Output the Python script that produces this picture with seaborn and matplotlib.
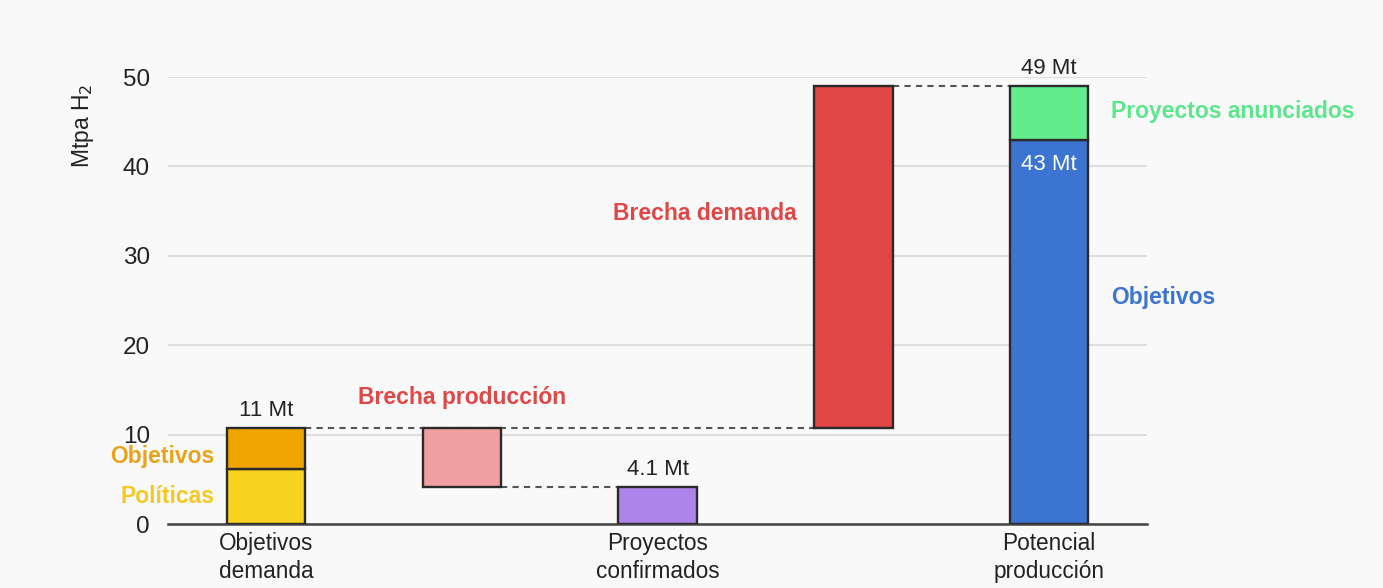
import matplotlib
matplotlib.use("Agg")
import matplotlib.pyplot as plt
import seaborn as sns

sns.set_theme(style="white")
plt.rcParams['font.family'] = ['Liberation Sans', 'DejaVu Sans']

# ---- data ----
slots = ["s0", "s1", "s2", "s3", "s4"]
segment_names = ["Políticas", "Objetivos", "Brecha producción", "Proyectos confirmados",
                 "Brecha demanda", "Objetivos", "Proyectos anunciados"]
segment_slot = ["s0", "s0", "s1", "s2", "s3", "s4", "s4"]
segment_bottom = [0, 6.1, 4.1, 0, 10.7, 0, 43]
segment_top = [6.1, 10.7, 10.7, 4.1, 49, 43, 49]
segment_colors = ["#f9d11f", "#efa400", "#f0a0a0", "#ad84ea", "#e04646", "#3b74d1", "#62ec8c"]

xtick_pos = [0, 2, 4]
xtick_labels = ["Objetivos\ndemanda", "Proyectos\nconfirmados", "Potencial\nproducción"]
total_labels = ["11 Mt", "4.1 Mt", "49 Mt"]
total_values = [10.7, 4.1, 49]
total_slots = [0, 2, 4]
yticks = [0, 10, 20, 30, 40, 50]

BG = "#f9f9f9"
fig = plt.figure(figsize=(13.83, 5.88), dpi=100, facecolor=BG)
ax = fig.add_axes([0.1215, 0.1088, 0.7079, 0.7602], facecolor=BG)

for name, s, b, t, c in zip(segment_names, segment_slot, segment_bottom, segment_top, segment_colors):
    sns.barplot(x=[s], y=[t - b], bottom=b, order=slots, color=c, saturation=1,
                width=0.4, edgecolor="#2a2a2a", linewidth=1.7, ax=ax, zorder=3)

# dashed connectors
dash_kw = dict(color="#555555", linestyle=(0, (3, 2.5)), linewidth=1.5, zorder=2)
ax.plot([0.2, 2.8], [10.7, 10.7], **dash_kw)
ax.plot([1.2, 1.8], [4.1, 4.1], **dash_kw)
ax.plot([3.2, 3.8], [49, 49], **dash_kw)

ax.set_xlim(-0.5, 4.5)
ax.set_ylim(0, 50)
ax.set_yticks(yticks)
ax.set_xticks(xtick_pos)
ax.set_xticklabels(xtick_labels, fontsize=16.3, color="#222222", linespacing=1.25)
ax.tick_params(axis="y", labelsize=17.5, labelcolor="#222222", length=0, pad=13)
ax.tick_params(axis="x", length=0, pad=6)
ax.grid(axis="y", color="#dedede", linewidth=1.5, zorder=0)
ax.set_axisbelow(True)
for sp in ["top", "right", "left"]:
    ax.spines[sp].set_visible(False)
ax.spines["bottom"].set_color("#444444")
ax.spines["bottom"].set_linewidth(1.8)
ax.set_xlabel("")
ax.set_ylabel("Mtpa H$_2$", fontsize=16.5, color="#222222")
ax.yaxis.set_label_coords(-0.074, 0.89)

# totals
for sl, v, lab in zip(total_slots, total_values, total_labels):
    ax.text(sl, v + 0.8, lab, ha="center", va="bottom", fontsize=16, color="#222222")
ax.text(4, 40.2, "43 Mt", ha="center", va="center", fontsize=16, color="white")

# category annotations
bold = dict(fontsize=16.5, fontweight="bold")
ax.text(-0.265, 7.5, "Objetivos", ha="right", va="center", color="#e8a31a", **bold)
ax.text(-0.265, 3.1, "Políticas", ha="right", va="center", color="#f5c822", **bold)
ax.text(1.0, 14.1, "Brecha producción", ha="center", va="center", color="#e04848", **bold)
ax.text(2.71, 34.7, "Brecha demanda", ha="right", va="center", color="#e04848", **bold)
ax.text(4.316, 46.1, "Proyectos anunciados", ha="left", va="center", color="#5ee68c", **bold)
ax.text(4.316, 25.3, "Objetivos", ha="left", va="center", color="#3b74d1", **bold)

fig.savefig("out.png", dpi=100, facecolor=BG)
